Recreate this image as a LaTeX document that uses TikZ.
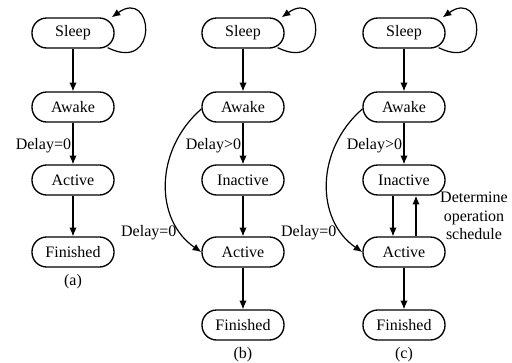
\documentclass[tikz,border=0pt]{standalone}
\usepackage{fontspec}
\setmainfont{Liberation Serif}
\usetikzlibrary{arrows.meta,calc}
\begin{document}
\begin{tikzpicture}[x=0.75pt,y=-0.75pt,
  state/.style={draw, line width=1pt, rounded corners=11pt, minimum width=61.5pt,
    minimum height=22.5pt, inner sep=0pt, font=\fontsize{12}{14}\selectfont},
  tr/.style={line width=0.9pt, -{Latex[length=6.5pt,width=5.5pt]}},
  lbl/.style={font=\fontsize{12}{14}\selectfont, inner sep=1pt},
  loopy/.style={tr}]
\useasboundingbox (0,0) rectangle (512,362);

% ---- (a) ----
\node[state] (sa)  at (73,33)  {Sleep};
\node[state] (awa) at (73,107) {Awake};
\node[state] (aca) at (73,180) {Active};
\node[state] (fia) at (73,252) {Finished};
\node[lbl] (capa) at (73,282) {(a)};
\draw[tr] (sa) -- (awa);
\draw[tr] (awa) -- node[lbl, anchor=east, pos=0.55] (da) {Delay=0} (aca);
\draw[tr] (aca) -- (fia);
\draw[loopy] ($(sa.south east)+(-7,-1)$) .. controls +(52,26) and +(42,-30) .. ($(sa.north east)+(-3,0)$);

% ---- (b) ----
\node[state] (sb)  at (243,33)  {Sleep};
\node[state] (awb) at (243,107) {Awake};
\node[state] (inb) at (243,180) {Inactive};
\node[state] (acb) at (243,252) {Active};
\node[state] (fib) at (243,325) {Finished};
\node[lbl] (capb) at (243,355) {(b)};
\draw[tr] (sb) -- (awb);
\draw[tr] (awb) -- node[lbl, anchor=east, pos=0.55] (db) {Delay>0} (inb);
\draw[tr] (inb) -- (acb);
\draw[tr] (acb) -- (fib);
\draw[loopy] ($(sb.south east)+(-7,-1)$) .. controls +(52,26) and +(42,-30) .. ($(sb.north east)+(-3,0)$);
\draw[tr] ($(awb.west)+(0,2)$) .. controls +(-47,41) and +(-47,-32) .. (acb.west);
\node[lbl, anchor=east] (db0) at (178,233) {Delay=0};

% ---- (c) ----
\node[state] (sc)  at (404,33)  {Sleep};
\node[state] (awc) at (404,107) {Awake};
\node[state] (inc) at (404,180) {Inactive};
\node[state] (acc) at (404,252) {Active};
\node[state] (fic) at (404,325) {Finished};
\node[lbl] (capc) at (404,355) {(c)};
\draw[tr] (sc) -- (awc);
\draw[tr] (awc) -- node[lbl, anchor=east, pos=0.55] (dc) {Delay>0} (inc);
\draw[tr] ([xshift=-8.25pt]inc.south) -- ([xshift=-8.25pt]acc.north);
\draw[tr] ([xshift=9pt]acc.north) -- ([xshift=9pt]inc.south);
\draw[tr] (acc) -- (fic);
\draw[loopy] ($(sc.south east)+(-7,-1)$) .. controls +(52,26) and +(42,-30) .. ($(sc.north east)+(-3,0)$);
\draw[tr] ($(awc.west)+(0,2)$) .. controls +(-47,41) and +(-47,-32) .. (acc.west);
\node[lbl, anchor=east] (dc0) at (338,233) {Delay=0};
\node[lbl, align=center, font=\fontsize{12}{14}\selectfont] (sched) at (474,216) {Determine\\operation\\schedule};
\end{tikzpicture}
\end{document}
